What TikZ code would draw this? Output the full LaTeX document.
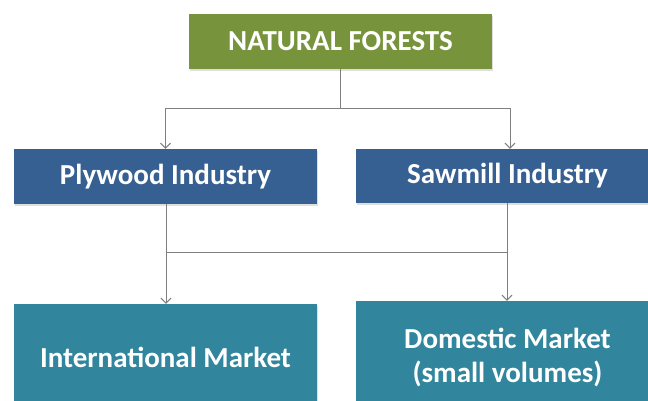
\documentclass[tikz,border=0pt]{standalone}
\usepackage{fontspec}
\setmainfont{Carlito}
\usetikzlibrary{arrows.meta,shadows}
\definecolor{forestgreen}{HTML}{77933C}
\definecolor{industryblue}{HTML}{376092}
\definecolor{marketteal}{HTML}{31859C}
\definecolor{linkgray}{HTML}{7F7F7F}
\begin{document}
\begin{tikzpicture}[x=1pt,y=-1pt]

      \useasboundingbox (0,0) rectangle (648,401);
      \clip (0,0) rectangle (648,401);

      \begin{scope}[every node/.style={rectangle, minimum width=303pt, inner sep=0pt,
          text=white, font=\fontsize{29}{34}\selectfont\bfseries, align=center,
          drop shadow={opacity=.25, shadow xshift=1pt, shadow yshift=-2pt}}]
        \node[fill=forestgreen, minimum height=55pt]   (1) at (340.5,41.5)  {NATURAL FORESTS};
        \node[fill=industryblue, minimum height=55pt]  (2) at (165.5,176.5) {Plywood Industry};
        \node[fill=industryblue, minimum height=54pt]  (3) at (507.5,176)   {Sawmill Industry};
        \node[fill=marketteal, minimum height=106pt]   (4) at (165.5,357)   {International Market};
        \node[fill=marketteal, minimum height=112pt]   (5) at (507.5,357)   {Domestic Market\\(small volumes)};
      \end{scope}

      \coordinate (a) at (340.5,109);
      \coordinate (b) at (166,252);
      \coordinate (c) at (507,252);

      \begin{scope}[draw=linkgray, line width=1pt, -{Straight Barb[length=5pt,width=10pt]}]
        \draw (1.south) -- (a) -| (2.north);
        \draw (a) -| ([xshift=2.5pt]3.north);
        \draw ([xshift=.5pt]2.south) -- ([xshift=.5pt]4.north);
        \draw ([xshift=-.5pt]3.south) -- ([xshift=-.5pt]5.north);
        \draw[-] (b) -- (c);
      \end{scope}

    \end{tikzpicture}
\end{document}
